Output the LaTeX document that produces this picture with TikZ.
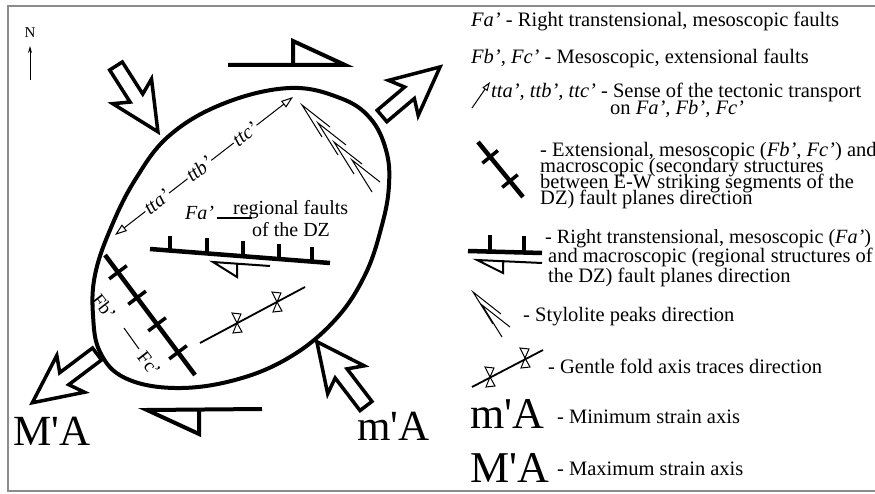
\documentclass[tikz,border=0pt]{standalone}
\usepackage{fontspec}
\setmainfont{Liberation Serif}
\usetikzlibrary{arrows.meta,calc}
\tikzset{
  frameline/.style={draw=black!45, line width=1.2pt},
  blockarr/.style={line width=3.5pt, line join=miter, miter limit=6},
  heavy/.style={line width=4.5pt},
  tick/.style={line width=3.5pt},
  ellipseline/.style={line width=4pt},
  halfarr/.style={line width=4pt, line join=miter},
  halfsmall/.style={line width=2pt, line join=miter},
  thinline/.style={line width=1pt},
  foldline/.style={line width=1.8pt},
  foldtri/.style={line width=1pt},
  legtext/.style={font=\fontsize{20.5}{16}\selectfont, anchor=base west, inner sep=0pt},
  bigtext/.style={font=\fontsize{44}{44}\selectfont, anchor=base west, inner sep=0pt},
  labtext/.style={font=\fontsize{20}{20}\selectfont, anchor=base west, inner sep=0pt},
  ttlab/.style={font=\fontsize{20}{20}\selectfont\itshape, fill=white, inner sep=1pt},
  fblab/.style={font=\fontsize{19}{19}\selectfont, inner sep=0.5pt}
}
\newcommand\blockarrow[4]{%
  \draw[blockarr, shift={(#1,#2)}, rotate=#3]
    (0,-7.5) -- ({#4-40},-7.5) -- ({#4-48},-23) -- (#4,0) -- ({#4-48},23) -- ({#4-40},7.5) -- (0,7.5) -- cycle;}
\newcommand\chev[2]{\draw[thinline] ({#1+28},{#2+22}) -- (#1,#2) -- ({#1+20},{#2+32});}
\newcommand\foldtie[2]{%
  \draw[foldtri] (#1,#2) -- ++(-5,-10) -- ++(9,1) -- cycle;
  \draw[foldtri] (#1,#2) -- ++(-4,10) -- ++(9,-1) -- cycle;}
\begin{document}
\begin{tikzpicture}[x=1pt,y=-1pt]
\useasboundingbox (0,0) rectangle (875,494);
% frame
\draw[frameline] (875,6) -- (8,6) -- (8,491) -- (875,491);

% north arrow
\node[font=\fontsize{15}{15}\selectfont, inner sep=0pt] (north) at (30,33) {N};
\coordinate (nS) at (30,80);
\coordinate (nE) at (30,46);
\draw[thinline, -{Stealth[length=7pt,width=4pt]}] (nS) -- (nE);

% deformation zone outline
\draw[ellipseline] plot[smooth cycle, tension=0.65] coordinates {
  (290,88) (340,98) (370,118) (386,150) (389,185) (382,225) (365,275)
  (335,320) (290,357) (235,380) (175,388) (125,378) (100,352) (93,315)
  (95,275) (110,230) (135,180) (170,135) (225,103)};

% strain axes block arrows
\blockarrow{116}{66}{-57.5}{78}
\blockarrow{382}{116}{40.2}{76}
\blockarrow{97}{354}{217}{81}
\blockarrow{366}{406}{127.4}{81}

% shear sense half arrows
\draw[halfarr] (228,65) -- (345,65) -- (293,41) -- (293,65);
\draw[halfarr] (262,409) -- (147,410) -- (199,434) -- (199,410);

% tectonic transport line
\coordinate (ttS) at (115,235);
\coordinate (ttE) at (293,97);
\draw[thinline, {Triangle[open,length=12pt,width=8pt]}-{Triangle[open,length=12pt,width=8pt]}] (ttS) -- (ttE);
\node[ttlab, rotate=38] (tta) at (157,202) {tta'};
\node[ttlab, rotate=38] (ttb) at (199,169) {ttb'};
\node[ttlab, rotate=38] (ttc) at (245,134) {ttc'};

% stylolite peaks
\chev{302}{105}
\chev{318}{123}
\chev{334}{142}
\chev{352}{160}

% Fa' regional faults
\node[labtext, font=\fontsize{20}{20}\selectfont\itshape] (fa) at (185,220) {Fa'};
\node[labtext] (reg1) at (233,215) {regional faults};
\node[labtext] (reg2) at (252,237) {of the DZ};
\draw[line width=1.2pt] (fa.base east) ++(3,-2) -- ++(35,0);
\coordinate (faS) at (150,249);
\coordinate (faE) at (330,263);
\draw[heavy] (faS) -- (faE);
\foreach \t in {0.111,0.317,0.517,0.717,0.9}
  \draw[tick] ($(faS)!\t!(faE)$) -- ++(0,-15);
\draw[halfsmall] (270,266) -- (213,262) -- (237,277) -- (237,264);

% Fb' Fc' faults
\coordinate (fbS) at (105,255);
\coordinate (fbE) at (195,375);
\draw[heavy] (fbS) -- (fbE);
\foreach \t in {0.144,0.356,0.578,0.811}
  \draw[tick] ($(fbS)!\t!(fbE)$) ++(-8.8,6.6) -- ++(17.6,-13.2);
\node[fblab, rotate=-52] (fb) at (104,307) {Fb'};
\node[fblab, rotate=-52] (fc) at (149,364) {Fc'};
\draw[line width=1pt] (fb) ++(20,21) -- ++(15,21);

% fold axis
\coordinate (fdS) at (200,343);
\coordinate (fdE) at (305,287);
\draw[foldline] (fdS) -- (fdE);
\foldtie{237}{323}
\foldtie{277}{302}

% labels of axes
\node[bigtext, font=\fontsize{43}{43}\selectfont] (MA) at (13,445) {M\textquotesingle A};
\node[bigtext, font=\fontsize{43}{43}\selectfont] (mA) at (357,440) {m\textquotesingle A};

% ---------------- legend ----------------
\node[legtext] (l1) at (471,27) {\textit{Fa'} - Right transtensional, mesoscopic faults};
\node[legtext] (l2) at (471,64) {\textit{Fb', Fc'} - Mesoscopic, extensional faults};
\coordinate (ltS) at (472,108);
\coordinate (ltE) at (490,82);
\draw[thinline, -{Triangle[open,length=9pt,width=6pt]}] (ltS) -- (ltE);
\node[legtext] (l3a) at (491,98) {\textit{tta', ttb', ttc'} - Sense of the tectonic transport};
\node[legtext] (l3b) at (610,115) {on \textit{Fa', Fb', Fc'}};

\coordinate (lfbS) at (478,142);
\coordinate (lfbE) at (523,197);
\draw[heavy] (lfbS) -- (lfbE);
\foreach \t in {0.27,0.71}
  \draw[tick] ($(lfbS)!\t!(lfbE)$) ++(-7.75,6.34) -- ++(15.5,-12.68);
\node[legtext] (l4a) at (540,157) {- Extensional, mesoscopic (\textit{Fb', Fc'}) and};
\node[legtext] (l4b) at (540,173) {macroscopic (secondary structures};
\node[legtext] (l4c) at (540,189) {between E-W striking segments of the};
\node[legtext] (l4d) at (540,205) {DZ) fault planes direction};

\coordinate (lfaS) at (468,251);
\coordinate (lfaE) at (542,253);
\draw[heavy] (lfaS) -- (lfaE);
\foreach \t in {0.3,0.76}
  \draw[tick] ($(lfaS)!\t!(lfaE)$) -- ++(0,-17);
\draw[halfsmall] (542,263) -- (477,260) -- (503,273) -- (503,262);
\node[legtext, font=\fontsize{20.2}{16}\selectfont] (l5a) at (545,244) {- Right transtensional, mesoscopic (\textit{Fa'})};
\node[legtext] (l5b) at (548,263) {and macroscopic (regional structures of};
\node[legtext] (l5c) at (548,283) {the DZ) fault planes direction};

\chev{473}{292}
\chev{482}{305}
\node[legtext] (l6) at (523,321) {- Stylolite peaks direction};

\coordinate (lfdS) at (472,387);
\coordinate (lfdE) at (543,350);
\draw[foldline] (lfdS) -- (lfdE);
\foldtie{490}{377}
\foldtie{525}{358}
\node[legtext] (l7) at (548,373) {- Gentle fold axis traces direction};

\node[bigtext] (lmA) at (470,428) {m\textquotesingle A};
\node[legtext] (l8) at (557,423) {- Minimum strain axis};
\node[bigtext] (lMA) at (470,482) {M\textquotesingle A};
\node[legtext] (l9) at (557,475) {- Maximum strain axis};
\end{tikzpicture}
\end{document}
